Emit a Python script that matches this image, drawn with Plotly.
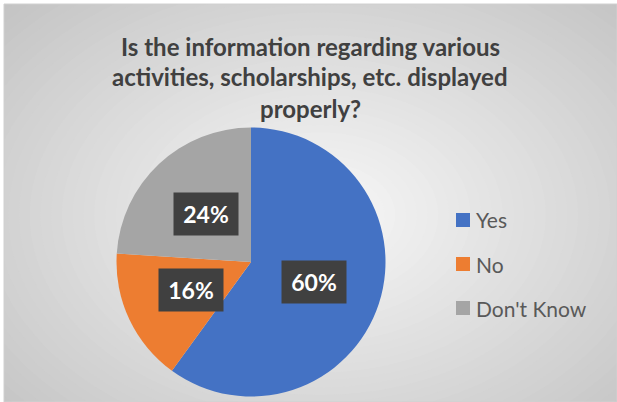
import math
import plotly.graph_objects as go

# data
categories = ["Yes", "No", "Don't Know"]
percentages = [60, 16, 24]
colors = ["#4472C4", "#ED7D31", "#A5A5A5"]
title_lines = ["Is the information regarding various",
               "activities, scholarships, etc. displayed",
               "properly?"]

W, H = 617, 402
# pie placement in pixels
cx, cy, r = 251, 262, 134.5

fig = go.Figure()
fig.add_trace(go.Pie(
    labels=categories,
    values=percentages,
    marker=dict(colors=colors, line=dict(width=0)),
    sort=False,
    direction="clockwise",
    rotation=0,
    textinfo="none",
    hoverinfo="label+percent",
    showlegend=False,
    domain=dict(x=[(cx - r) / W, (cx + r) / W],
                y=[1 - (cy + r) / H, 1 - (cy - r) / H]),
))

shapes = []
# background box with a stepped radial gradient
shapes.append(dict(type="rect", xref="paper", yref="paper",
                   x0=4 / W, x1=1, y0=0, y1=1 - 4 / H,
                   fillcolor="#c4c4c4", line=dict(width=0), layer="below"))
steps = 40
gx, gy = 320, 215
for i in range(steps):
    f = 1 - i / steps
    rx, ry = 430 * f, 300 * f
    c = int(196 + (248 - 196) * (i + 1) / steps)
    shapes.append(dict(type="circle", xref="paper", yref="paper",
                       x0=(gx - rx) / W, x1=(gx + rx) / W,
                       y0=1 - (gy + ry) / H, y1=1 - (gy - ry) / H,
                       fillcolor=f"rgb({c},{c},{c})", line=dict(width=0),
                       layer="below"))
# white outer margin, top and left
shapes.append(dict(type="rect", xref="paper", yref="paper", x0=0, x1=1,
                   y0=1 - 4 / H, y1=1, fillcolor="white", line=dict(width=0), layer="below"))
shapes.append(dict(type="rect", xref="paper", yref="paper", x0=0, x1=4 / W,
                   y0=0, y1=1, fillcolor="white", line=dict(width=0), layer="below"))
shapes.append(dict(type="rect", xref="paper", yref="paper",
                   x0=4 / W, x1=1, y0=0, y1=1 - 4 / H,
                   fillcolor="rgba(0,0,0,0)", line=dict(width=1, color="#d0d0d0"), layer="below"))

annotations = []
# data labels at half radius, from slice mid-angles
total = sum(percentages)
start = 0
for v in percentages:
    mid = (start + v / 2) / total * 2 * math.pi
    start += v
    px = cx + 0.49 * r * math.sin(mid)
    py = cy - 0.49 * r * math.cos(mid)
    annotations.append(dict(
        x=px / W, y=1 - py / H, xref="paper", yref="paper",
        text=f"<b>{round(v / total * 100)}%</b>", showarrow=False,
        font=dict(family="Lato", size=23, color="white"),
        bgcolor="#404040", width=62, height=40,
        xanchor="center", yanchor="middle",
    ))

# legend, drawn as squares + text
leg_x, leg_y0, leg_dy = 463, 220, 44
for i, (name, col) in enumerate(zip(categories, colors)):
    yy = leg_y0 + i * leg_dy
    shapes.append(dict(type="rect", xref="paper", yref="paper",
                       x0=(leg_x - 7) / W, x1=(leg_x + 7) / W,
                       y0=1 - (yy + 7) / H, y1=1 - (yy - 7) / H,
                       fillcolor=col, line=dict(width=0)))
    annotations.append(dict(
        x=(leg_x + 11) / W, y=1 - yy / H, xref="paper", yref="paper",
        text=name, showarrow=False, xanchor="left", yanchor="middle",
        font=dict(family="Lato", size=21, color="#595959"),
    ))

# title lines
for i, line in enumerate(title_lines):
    annotations.append(dict(
        x=310 / W, y=1 - (46 + i * 31) / H, xref="paper", yref="paper",
        text=f"<b>{line}</b>", showarrow=False, xanchor="center", yanchor="middle",
        font=dict(family="Lato", size=24, color="#404040"),
    ))

fig.update_layout(
    width=W, height=H,
    margin=dict(l=0, r=0, t=0, b=0),
    paper_bgcolor="white",
    shapes=shapes,
    annotations=annotations,
    showlegend=False,
)

fig.write_html("out.html", config={"displayModeBar": False},
               post_script="document.body.style.margin='0';")
